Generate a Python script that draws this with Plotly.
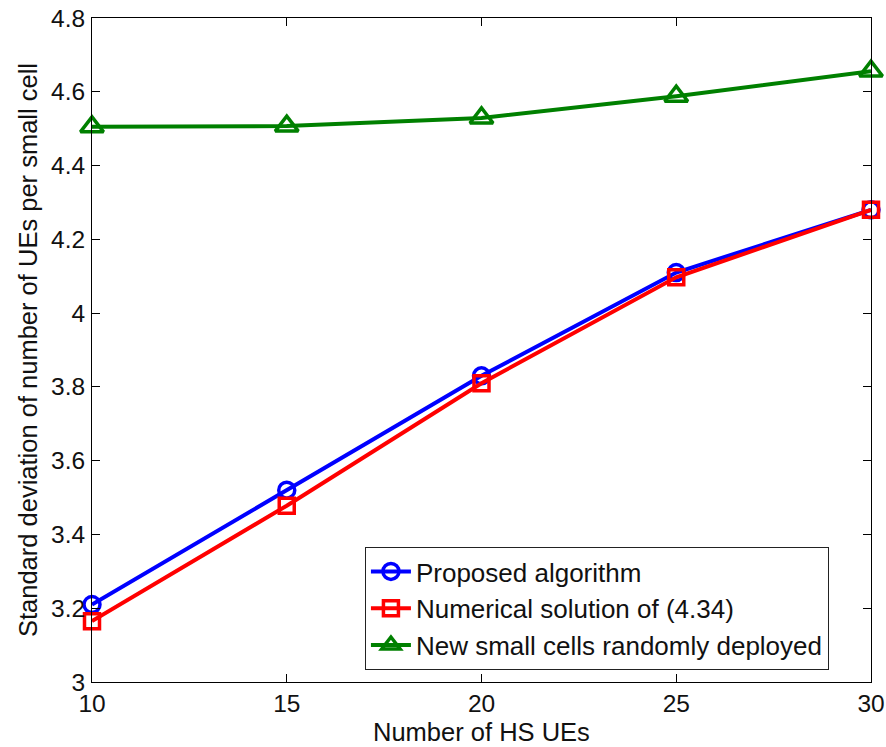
import plotly.graph_objects as go

# Number of HS UEs
hs_ues = [10, 15, 20, 25, 30]

# Standard deviation of number of UEs per small cell
proposed = [3.21, 3.52, 3.83, 4.11, 4.28]
numerical = [3.165, 3.478, 3.81, 4.097, 4.28]
random_deployed = [4.505, 4.507, 4.529, 4.588, 4.656]

x_ticks = [10, 15, 20, 25, 30]
y_ticks = [3, 3.2, 3.4, 3.6, 3.8, 4, 4.2, 4.4, 4.6, 4.8]
y_tick_text = ["3", "3.2", "3.4", "3.6", "3.8", "4", "4.2", "4.4", "4.6", "4.8"]

x_title = "Number of HS UEs"
y_title = "Standard deviation of number of UEs per small cell"

FONT = "Liberation Sans, Arial, sans-serif"
INK = "#111111"

fig = go.Figure()

series = [
    ("Proposed algorithm", proposed, "#0000ff", "circle-open", 16),
    ("Numerical solution of (4.34)", numerical, "#ff0000", "square-open", 15),
    ("New small cells randomly deployed", random_deployed, "#008000", "triangle-up-open", 20),
]

for name, vals, color, symbol, size in series:
    fig.add_trace(go.Scatter(
        x=hs_ues, y=vals, name=name, mode="lines+markers",
        line=dict(color=color, width=4),
        marker=dict(symbol=symbol, size=size, color=color, line=dict(width=3.5, color=color)),
        cliponaxis=False,
    ))

axis_common = dict(
    showgrid=False, zeroline=False, automargin=False,
    showline=True, linecolor="black", linewidth=1, mirror="ticks",
    ticks="inside", ticklen=8, tickcolor="black", tickwidth=1,
    tickfont=dict(family=FONT, size=24.5, color=INK),
)

fig.update_xaxes(range=[10, 30], tickvals=x_ticks, ticklabelstandoff=0, **axis_common)
fig.update_yaxes(
    range=[3, 4.8], tickvals=y_ticks, ticktext=y_tick_text, ticklabelstandoff=1,
    title=dict(text=y_title, font=dict(family=FONT, size=25.5, color=INK), standoff=6),
    **axis_common,
)

# x-axis title placed just under the tick labels
fig.add_annotation(
    text=x_title, xref="paper", yref="paper", x=0.5, y=0,
    xanchor="center", yanchor="middle", yshift=-50, showarrow=False,
    borderpad=0, font=dict(family=FONT, size=25.5, color=INK),
)

fig.update_layout(
    width=886, height=747,
    margin=dict(l=92, r=15, t=18, b=65),
    paper_bgcolor="white", plot_bgcolor="white",
    showlegend=True,
    legend=dict(
        x=0.946, y=0.018, xanchor="right", yanchor="bottom",
        bgcolor="white", bordercolor="#222222", borderwidth=1,
        font=dict(family=FONT, size=26, color=INK),
        tracegroupgap=0, itemwidth=40,
    ),
)

fig.write_html("out.html")
